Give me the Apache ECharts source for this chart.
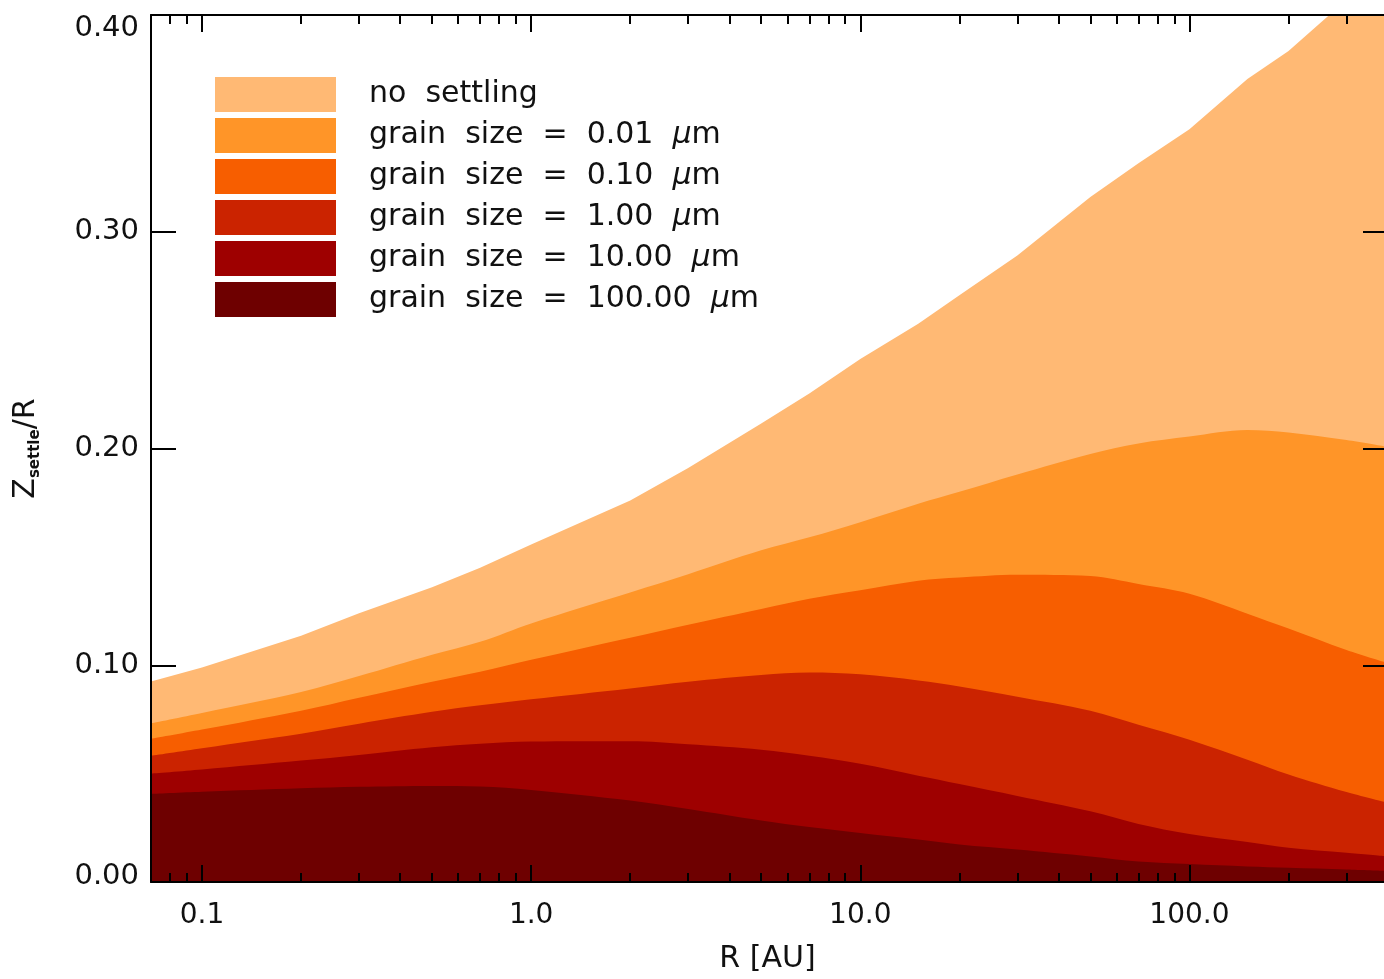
<!DOCTYPE html>
<html>
<head>
<meta charset="utf-8">
<script src="https://cdn.jsdelivr.net/npm/echarts@6/dist/echarts.min.js"></script>
<style>
  html,body{margin:0;padding:0;background:#fff;}
  #main{width:1384px;height:979px;}
</style>
</head>
<body>
<div id="main"></div>
<script>
// radius in AU (log axis)
var radius = [0.07, 0.1, 0.2, 0.3, 0.5, 0.7, 1, 2, 3, 5, 7, 10, 15, 20, 30, 50, 70, 100, 150, 200, 300, 390];
// Z_settle / R for each case
var noSettling = [0.0925, 0.099, 0.1136, 0.124, 0.136, 0.145, 0.1557, 0.176, 0.191, 0.2115, 0.2254, 0.2413, 0.2575, 0.2707, 0.289, 0.316, 0.3316, 0.3473, 0.3705, 0.3834, 0.407, 0.425];
var grain001 = [0.0732, 0.078, 0.0877, 0.095, 0.1048, 0.1108, 0.1193, 0.1336, 0.142, 0.153, 0.159, 0.166, 0.1745, 0.180, 0.188, 0.1975, 0.2023, 0.2055, 0.2085, 0.2074, 0.2039, 0.201];
var grain010 = [0.066, 0.0703, 0.079, 0.085, 0.0924, 0.097, 0.1025, 0.1127, 0.1187, 0.126, 0.1307, 0.1346, 0.139, 0.1405, 0.1418, 0.1412, 0.1375, 0.133, 0.1238, 0.1169, 0.107, 0.1015];
var grain100 = [0.0582, 0.0617, 0.0684, 0.073, 0.0785, 0.0815, 0.0843, 0.0893, 0.0924, 0.0955, 0.0966, 0.0958, 0.093, 0.0902, 0.0855, 0.079, 0.0725, 0.0656, 0.0564, 0.0496, 0.0415, 0.037];
var grain1000 = [0.050, 0.0519, 0.056, 0.0586, 0.0622, 0.0638, 0.0648, 0.0649, 0.0635, 0.061, 0.0582, 0.0545, 0.049, 0.0452, 0.0397, 0.0326, 0.0268, 0.0222, 0.0185, 0.0158, 0.0135, 0.012];
var grain10000 = [0.0406, 0.0416, 0.0432, 0.0439, 0.0443, 0.0441, 0.0425, 0.0376, 0.0337, 0.0284, 0.0254, 0.0226, 0.0196, 0.0173, 0.015, 0.0118, 0.0095, 0.0083, 0.0072, 0.0066, 0.0058, 0.0052];

var seriesNames = ['no settling', 'grain size = 0.01 μm', 'grain size = 0.10 μm', 'grain size = 1.00 μm', 'grain size = 10.00 μm', 'grain size = 100.00 μm'];
var seriesColors = ['#ffb974', '#ff9528', '#f75e00', '#cb2300', '#9e0000', '#6e0000'];
var seriesValues = [noSettling, grain001, grain010, grain100, grain1000, grain10000];

// axis ticks
var xMajorTicks = [0.1, 1, 10, 100];
var xMinorTicks = [0.08, 0.09, 0.2, 0.3, 0.4, 0.5, 0.6, 0.7, 0.8, 0.9, 2, 3, 4, 5, 6, 7, 8, 9, 20, 30, 40, 50, 60, 70, 80, 90, 200, 300];
var xTickLabels = ['0.1', '1.0', '10.0', '100.0'];

(function(){
    var myChart = echarts.init(document.getElementById('main'));
    var font = 'DejaVu Sans';

    var series = seriesValues.map(function(vals, i){
        return {
            name: seriesNames[i],
            type: 'line',
            xAxisIndex: 0,
            yAxisIndex: 0,
            showSymbol: false,
            symbol: 'none',
            // the no-settling curve has visible kinks, the others are smooth
            smooth: i === 0 ? false : 0.35,
            lineStyle: {width: 0},
            itemStyle: {color: seriesColors[i]},
            areaStyle: {color: seriesColors[i], opacity: 1},
            data: radius.map(function(r, k){ return [r, vals[k]]; }),
            z: 2 + i
        };
    });

    function xAxisBase(pos, tickVals, len, lineShow){
        return {
            type: 'log',
            logBase: 10,
            min: 0.07,
            max: 390,
            position: pos,
            z: 20,
            axisLine: {show: lineShow, lineStyle: {color: '#000', width: 2}},
            axisTick: {show: true, inside: true, length: len, customValues: tickVals, lineStyle: {color: '#000', width: 2}},
            axisLabel: {show: false},
            splitLine: {show: false},
            minorTick: {show: false}
        };
    }

    var xBottom = xAxisBase('bottom', xMajorTicks, 17, true);
    xBottom.axisLabel = {
        show: true,
        customValues: xMajorTicks,
        margin: 20,
        color: '#111',
        fontFamily: font,
        fontSize: 28,
        formatter: function(v){
            var i = xMajorTicks.findIndex(function(t){ return Math.abs(Math.log10(t) - Math.log10(v)) < 1e-6; });
            return i >= 0 ? xTickLabels[i] : '';
        }
    };
    xBottom.name = 'R [AU]';
    xBottom.nameLocation = 'middle';
    xBottom.nameGap = 62;
    xBottom.nameTextStyle = {color: '#111', fontFamily: font, fontSize: 30};

    var option = {
        animation: false,
        backgroundColor: '#fff',
        grid: {left: 151, right: 0, top: 15, bottom: 96, containLabel: false},
        legend: {
            orient: 'vertical',
            left: 215,
            top: 77,
            padding: 0,
            icon: 'rect',
            itemWidth: 121,
            itemHeight: 35,
            itemGap: 6,
            data: seriesNames,
            formatter: function(name){
                // wide word spacing like the original plot
                return name.replace(/ /g, '  ').replace('μ', '{mu|μ}');
            },
            textStyle: {
                color: '#111',
                fontFamily: font,
                fontSize: 30,
                padding: [0, 0, 0, 28],
                rich: {mu: {fontFamily: font, fontSize: 30, fontStyle: 'italic', color: '#111'}}
            }
        },
        xAxis: [
            xBottom,
            xAxisBase('bottom', xMinorTicks, 9, false),
            xAxisBase('top', xMajorTicks, 17, true),
            xAxisBase('top', xMinorTicks, 9, false)
        ],
        yAxis: [
            {
                type: 'value',
                min: 0,
                max: 0.4,
                interval: 0.1,
                position: 'left',
                z: 20,
                axisLine: {show: true, lineStyle: {color: '#000', width: 2}},
                axisTick: {show: true, inside: true, length: 25, lineStyle: {color: '#000', width: 2}},
                splitLine: {show: false},
                axisLabel: {
                    margin: 12,
                    color: '#111',
                    fontFamily: font,
                    fontSize: 29,
                    formatter: function(v){
                        var s = v.toFixed(2);
                        if (v < 0.05) return '{lo|' + s + '}';
                        if (v > 0.35) return '{hi|' + s + '}';
                        return s;
                    },
                    rich: {
                        lo: {fontFamily: font, fontSize: 29, color: '#111', padding: [0, 0, 12, 0]},
                        hi: {fontFamily: font, fontSize: 29, color: '#111', padding: [26, 0, 0, 0]}
                    }
                },
                name: '{z|Z}{s|settle}{z|/R}',
                nameLocation: 'middle',
                nameGap: 108,
                nameTextStyle: {
                    color: '#111',
                    rich: {
                        z: {fontFamily: font, fontSize: 30, color: '#111', lineHeight: 34},
                        s: {fontFamily: font, fontSize: 15, fontWeight: 'bold', color: '#111', verticalAlign: 'bottom', lineHeight: 34, padding: [14, 0, 0, 0]}
                    }
                }
            },
            {
                type: 'value',
                min: 0,
                max: 0.4,
                interval: 0.1,
                position: 'right',
                z: 20,
                axisLine: {show: false},
                axisTick: {show: true, inside: true, length: 21, lineStyle: {color: '#000', width: 2}},
                axisLabel: {show: false},
                splitLine: {show: false}
            }
        ],
        series: series
    };
    myChart.setOption(option);
})();
</script>
</body>
</html>
